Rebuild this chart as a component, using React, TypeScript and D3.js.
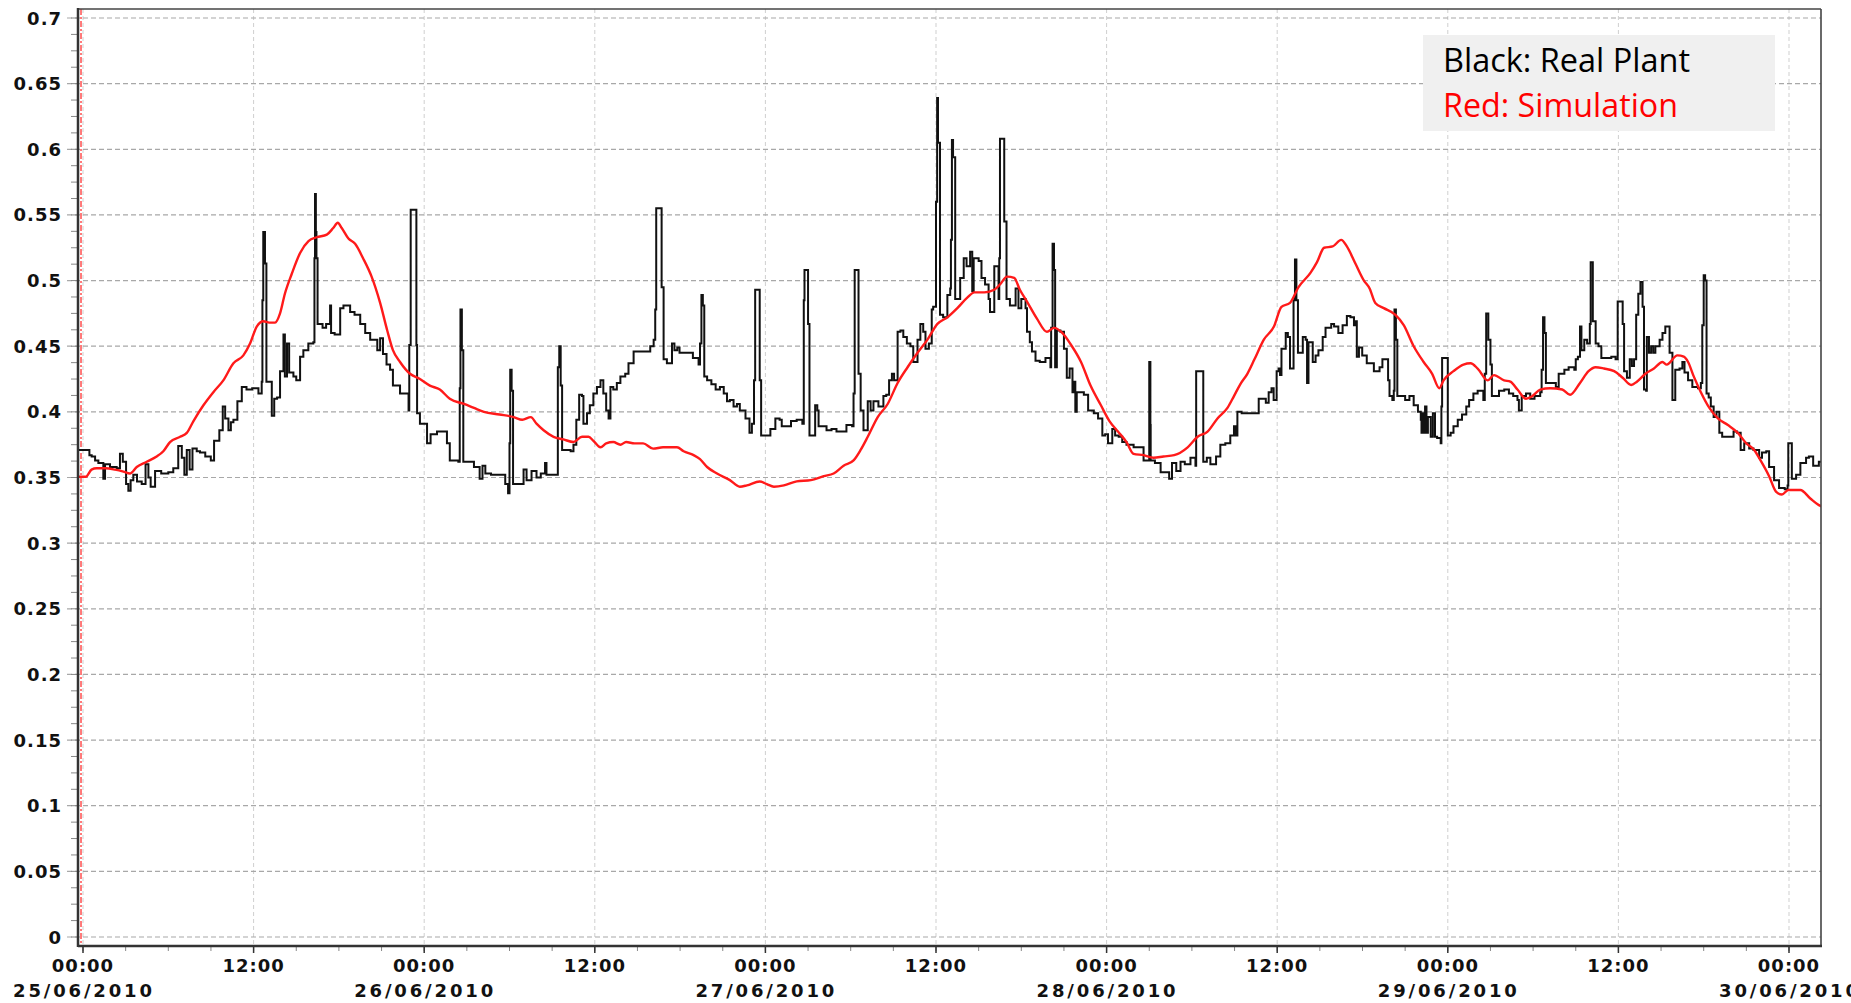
import React from 'react';
import * as d3 from 'd3';

// Hours after 25/06/2010 00:00 paired with the measured value.
const realPlant: [number, number][] = [
  [-0.37, 0.371], [0.3, 0.371], [0.45, 0.367], [0.61, 0.366], [0.85, 0.363], [1.08, 0.361], [1.43, 0.349], [1.55, 0.36],
  [1.9, 0.358], [2.37, 0.357], [2.6, 0.368], [2.8, 0.362], [3.03, 0.345], [3.19, 0.34], [3.35, 0.348], [3.54, 0.352],
  [3.8, 0.347], [4.13, 0.345], [4.4, 0.36], [4.6, 0.35], [4.76, 0.343], [5.07, 0.355], [5.5, 0.353], [6.0, 0.354],
  [6.35, 0.357], [6.7, 0.374], [6.95, 0.365], [7.13, 0.352], [7.3, 0.371], [7.5, 0.356], [7.7, 0.372], [8.0, 0.37],
  [8.23, 0.369], [8.6, 0.366], [8.99, 0.363], [9.22, 0.378], [9.59, 0.386], [9.83, 0.404], [10.0, 0.395], [10.23, 0.386],
  [10.4, 0.392], [10.58, 0.394], [10.86, 0.408], [11.17, 0.419], [11.5, 0.417], [11.9, 0.418], [12.34, 0.414], [12.57, 0.423],
  [12.62, 0.485], [12.68, 0.537], [12.8, 0.513], [12.9, 0.423], [13.16, 0.423], [13.28, 0.397], [13.45, 0.41], [13.65, 0.411],
  [13.86, 0.431], [14.1, 0.459], [14.2, 0.427], [14.35, 0.452], [14.5, 0.43], [14.8, 0.427], [15.0, 0.424], [15.27, 0.442],
  [15.5, 0.447], [15.85, 0.452], [16.2, 0.453], [16.28, 0.517], [16.32, 0.566], [16.38, 0.537], [16.42, 0.517], [16.5, 0.467],
  [16.85, 0.464], [17.1, 0.467], [17.38, 0.481], [17.45, 0.46], [17.7, 0.459], [18.09, 0.479], [18.32, 0.481], [18.79, 0.476],
  [19.1, 0.474], [19.5, 0.467], [19.85, 0.46], [20.2, 0.455], [20.7, 0.447], [20.9, 0.456], [21.1, 0.444], [21.35, 0.436],
  [21.6, 0.432], [21.8, 0.42], [22.3, 0.414], [22.9, 0.401], [22.95, 0.451], [23.05, 0.554], [23.35, 0.554], [23.45, 0.451],
  [23.5, 0.399], [23.7, 0.391], [24.2, 0.376], [24.45, 0.383], [24.9, 0.385], [25.6, 0.376], [25.8, 0.363], [26.4, 0.362],
  [26.5, 0.418], [26.55, 0.478], [26.65, 0.447], [26.75, 0.362], [27.1, 0.362], [27.5, 0.358], [27.9, 0.349], [28.1, 0.359],
  [28.3, 0.353], [28.7, 0.352], [29.3, 0.352], [29.7, 0.345], [29.9, 0.338], [30.0, 0.376], [30.05, 0.432], [30.15, 0.416],
  [30.25, 0.345], [30.7, 0.345], [30.99, 0.356], [31.2, 0.348], [31.55, 0.355], [31.9, 0.35], [32.2, 0.353], [32.5, 0.361],
  [32.6, 0.352], [33.3, 0.352], [33.4, 0.434], [33.5, 0.45], [33.6, 0.42], [33.7, 0.371], [34.3, 0.37], [34.5, 0.375],
  [34.7, 0.394], [34.9, 0.413], [35.1, 0.412], [35.2, 0.391], [35.45, 0.399], [35.65, 0.405], [35.9, 0.414], [36.15, 0.419],
  [36.4, 0.424], [36.6, 0.414], [36.8, 0.401], [36.97, 0.395], [37.1, 0.419], [37.3, 0.417], [37.55, 0.422], [37.8, 0.427],
  [38.14, 0.429], [38.37, 0.437], [38.73, 0.446], [39.08, 0.446], [39.67, 0.446], [39.9, 0.45], [40.14, 0.455], [40.25, 0.478],
  [40.32, 0.555], [40.6, 0.555], [40.7, 0.495], [40.84, 0.44], [41.07, 0.437], [41.43, 0.452], [41.6, 0.447], [41.8, 0.449],
  [41.96, 0.445], [42.5, 0.445], [42.9, 0.441], [43.3, 0.436], [43.4, 0.452], [43.5, 0.489], [43.6, 0.481], [43.7, 0.427],
  [43.9, 0.424], [44.2, 0.421], [44.5, 0.417], [44.8, 0.419], [45.07, 0.414], [45.3, 0.408], [45.5, 0.409], [45.76, 0.404],
  [46.0, 0.406], [46.2, 0.401], [46.6, 0.395], [46.88, 0.384], [47.05, 0.391], [47.2, 0.424], [47.28, 0.493], [47.5, 0.493],
  [47.6, 0.424], [47.7, 0.382], [48.1, 0.382], [48.35, 0.387], [48.7, 0.395], [49.0, 0.394], [49.15, 0.389], [49.4, 0.389],
  [49.8, 0.393], [50.2, 0.394], [50.6, 0.391], [50.7, 0.485], [50.75, 0.508], [50.92, 0.508], [51.0, 0.467], [51.1, 0.382],
  [51.4, 0.382], [51.5, 0.405], [51.65, 0.401], [51.74, 0.389], [52.0, 0.389], [52.3, 0.386], [52.65, 0.387], [53.0, 0.385],
  [53.35, 0.385], [53.7, 0.39], [54.1, 0.389], [54.2, 0.414], [54.28, 0.508], [54.5, 0.508], [54.55, 0.429], [54.7, 0.401],
  [54.9, 0.386], [55.2, 0.408], [55.4, 0.401], [55.6, 0.408], [55.95, 0.404], [56.3, 0.412], [56.5, 0.413], [56.7, 0.424],
  [56.9, 0.429], [57.05, 0.424], [57.3, 0.461], [57.5, 0.462], [57.7, 0.457], [57.95, 0.452], [58.2, 0.45], [58.4, 0.438],
  [58.7, 0.455], [58.9, 0.467], [59.1, 0.461], [59.26, 0.448], [59.5, 0.452], [59.7, 0.478], [59.8, 0.48], [59.95, 0.48],
  [60.0, 0.56], [60.08, 0.639], [60.14, 0.605], [60.25, 0.605], [60.28, 0.474], [60.5, 0.472], [60.8, 0.489], [61.0, 0.494],
  [61.05, 0.531], [61.12, 0.607], [61.2, 0.594], [61.3, 0.594], [61.35, 0.486], [61.5, 0.486], [61.7, 0.502], [61.95, 0.517],
  [62.15, 0.511], [62.4, 0.522], [62.55, 0.492], [62.65, 0.517], [63.0, 0.515], [63.2, 0.502], [63.45, 0.497], [63.7, 0.486],
  [63.8, 0.476], [64.1, 0.511], [64.3, 0.511], [64.4, 0.486], [64.45, 0.517], [64.5, 0.608], [64.75, 0.608], [64.8, 0.545],
  [64.96, 0.486], [65.2, 0.481], [65.6, 0.494], [65.8, 0.479], [66.0, 0.486], [66.3, 0.479], [66.4, 0.461], [66.6, 0.453],
  [66.75, 0.446], [67.0, 0.439], [67.3, 0.438], [67.7, 0.441], [68.05, 0.434], [68.1, 0.464], [68.2, 0.528], [68.3, 0.508],
  [68.38, 0.434], [68.5, 0.462], [68.75, 0.461], [69.0, 0.448], [69.2, 0.426], [69.4, 0.433], [69.6, 0.415], [69.7, 0.423],
  [69.8, 0.4], [69.9, 0.415], [70.4, 0.413], [70.7, 0.401], [71.1, 0.399], [71.4, 0.395], [71.7, 0.382], [71.9, 0.383],
  [72.1, 0.376], [72.4, 0.387], [72.6, 0.382], [72.85, 0.381], [73.1, 0.377], [73.4, 0.375], [73.9, 0.373], [74.2, 0.373],
  [74.6, 0.363], [74.95, 0.363], [75.0, 0.438], [75.08, 0.39], [75.1, 0.363], [75.4, 0.361], [75.8, 0.354], [76.1, 0.354],
  [76.4, 0.349], [76.6, 0.361], [76.9, 0.355], [77.2, 0.362], [77.5, 0.36], [77.9, 0.365], [78.25, 0.359], [78.3, 0.431],
  [78.7, 0.431], [78.8, 0.362], [79.05, 0.365], [79.3, 0.36], [79.7, 0.366], [80.0, 0.375], [80.35, 0.376], [80.7, 0.382],
  [80.96, 0.389], [81.1, 0.382], [81.2, 0.4], [81.5, 0.399], [81.8, 0.399], [82.6, 0.399], [82.7, 0.41], [83.1, 0.41],
  [83.2, 0.407], [83.4, 0.415], [83.6, 0.418], [83.75, 0.409], [83.96, 0.431], [84.1, 0.433], [84.2, 0.428], [84.3, 0.448],
  [84.6, 0.46], [84.75, 0.457], [84.9, 0.433], [85.1, 0.433], [85.15, 0.485], [85.25, 0.516], [85.35, 0.485], [85.46, 0.445],
  [85.7, 0.445], [85.8, 0.457], [86.0, 0.455], [86.1, 0.422], [86.2, 0.453], [86.5, 0.438], [86.7, 0.443], [86.9, 0.447],
  [87.2, 0.457], [87.4, 0.464], [87.8, 0.467], [88.0, 0.465], [88.3, 0.46], [88.6, 0.466], [88.9, 0.473], [89.15, 0.472],
  [89.4, 0.466], [89.5, 0.469], [89.6, 0.442], [89.75, 0.449], [89.98, 0.443], [90.3, 0.437], [90.8, 0.431], [91.2, 0.434],
  [91.4, 0.44], [91.7, 0.44], [91.8, 0.424], [91.9, 0.412], [92.1, 0.409], [92.2, 0.416], [92.25, 0.478], [92.35, 0.455],
  [92.45, 0.412], [92.7, 0.412], [93.0, 0.409], [93.3, 0.412], [93.6, 0.405], [93.9, 0.4], [94.1, 0.394], [94.15, 0.384],
  [94.2, 0.399], [94.3, 0.384], [94.4, 0.404], [94.5, 0.384], [94.6, 0.396], [94.8, 0.381], [94.95, 0.399], [95.1, 0.381],
  [95.25, 0.38], [95.5, 0.376], [95.55, 0.404], [95.6, 0.441], [95.85, 0.441], [96.0, 0.382], [96.2, 0.384], [96.4, 0.389],
  [96.7, 0.394], [97.0, 0.398], [97.3, 0.404], [97.5, 0.409], [97.8, 0.414], [98.1, 0.416], [98.5, 0.409], [98.6, 0.429],
  [98.7, 0.475], [98.85, 0.455], [99.0, 0.436], [99.1, 0.412], [99.4, 0.412], [99.6, 0.416], [99.97, 0.417], [100.3, 0.414],
  [100.6, 0.412], [100.9, 0.409], [101.0, 0.401], [101.2, 0.412], [101.5, 0.414], [101.8, 0.41], [102.1, 0.412], [102.5, 0.415],
  [102.6, 0.432], [102.7, 0.472], [102.8, 0.46], [102.9, 0.422], [103.2, 0.422], [103.6, 0.419], [103.8, 0.429], [104.2, 0.432],
  [104.5, 0.434], [104.9, 0.432], [105.0, 0.44], [105.15, 0.442], [105.3, 0.465], [105.4, 0.447], [105.6, 0.455], [105.8, 0.452],
  [105.99, 0.467], [106.05, 0.514], [106.15, 0.514], [106.2, 0.469], [106.4, 0.452], [106.6, 0.45], [106.8, 0.441], [107.1, 0.441],
  [107.5, 0.442], [107.8, 0.44], [107.95, 0.484], [108.2, 0.484], [108.3, 0.467], [108.4, 0.431], [108.6, 0.426], [108.8, 0.44],
  [108.95, 0.435], [109.1, 0.44], [109.25, 0.474], [109.4, 0.49], [109.55, 0.499], [109.7, 0.48], [109.8, 0.417], [109.95, 0.416],
  [110.0, 0.457], [110.15, 0.445], [110.3, 0.45], [110.45, 0.445], [110.6, 0.45], [110.9, 0.455], [111.1, 0.46], [111.3, 0.465],
  [111.5, 0.465], [111.6, 0.445], [111.8, 0.409], [111.95, 0.409], [112.0, 0.432], [112.3, 0.433], [112.5, 0.438], [112.65, 0.43],
  [112.9, 0.424], [113.2, 0.419], [113.6, 0.418], [113.8, 0.422], [113.9, 0.466], [114.0, 0.504], [114.1, 0.5], [114.2, 0.414],
  [114.35, 0.411], [114.5, 0.404], [114.7, 0.396], [114.9, 0.4], [115.1, 0.384], [115.3, 0.381], [115.9, 0.381], [116.1, 0.385],
  [116.35, 0.384], [116.6, 0.371], [116.85, 0.376], [117.2, 0.372], [117.5, 0.371], [117.9, 0.365], [118.1, 0.369], [118.4, 0.37],
  [118.6, 0.358], [118.95, 0.348], [119.3, 0.342], [119.7, 0.341], [119.9, 0.344], [119.95, 0.376], [120.05, 0.376], [120.2, 0.349],
  [120.5, 0.352], [120.8, 0.361], [121.2, 0.365], [121.4, 0.366], [121.7, 0.359], [122.1, 0.362], [122.3, 0.362],
];

// Hours after 25/06/2010 00:00 paired with the simulated value.
const simulation: [number, number][] = [
  [-0.37, 0.3506], [0.2, 0.3506], [0.6, 0.356], [0.96, 0.357], [1.6, 0.357], [2.25, 0.356], [2.84, 0.3545], [3.3, 0.353],
  [3.78, 0.358], [4.48, 0.362], [5.18, 0.366], [5.65, 0.37], [6.12, 0.377], [6.83, 0.381], [7.3, 0.384], [7.77, 0.393],
  [8.47, 0.405], [9.17, 0.415], [9.87, 0.424], [10.58, 0.437], [11.28, 0.443], [11.75, 0.452], [12.22, 0.465], [12.69, 0.469],
  [13.1, 0.468], [13.51, 0.468], [13.86, 0.475], [14.2, 0.49], [14.68, 0.505], [15.27, 0.521], [15.86, 0.53], [16.44, 0.533],
  [17.15, 0.535], [17.6, 0.54], [17.92, 0.544], [18.2, 0.54], [18.67, 0.532], [19.14, 0.528], [19.7, 0.517], [20.3, 0.503],
  [20.9, 0.483], [21.4, 0.462], [21.8, 0.447], [22.3, 0.438], [23.0, 0.429], [23.7, 0.425], [24.4, 0.42], [25.1, 0.417],
  [25.8, 0.41], [26.8, 0.406], [27.5, 0.403], [28.2, 0.4], [29.3, 0.398], [30.3, 0.396], [30.9, 0.394], [31.5, 0.396],
  [31.9, 0.391], [32.4, 0.386], [33.1, 0.381], [33.8, 0.379], [34.5, 0.377], [35.1, 0.381], [35.56, 0.381], [35.9, 0.378],
  [36.4, 0.373], [36.8, 0.376], [37.3, 0.377], [37.8, 0.375], [38.2, 0.377], [38.8, 0.376], [39.4, 0.376], [40.1, 0.372],
  [40.8, 0.373], [41.78, 0.373], [42.25, 0.37], [42.95, 0.367], [43.4, 0.364], [43.9, 0.358], [44.6, 0.353], [45.5, 0.348],
  [46.2, 0.343], [46.7, 0.344], [47.6, 0.347], [48.1, 0.345], [48.6, 0.343], [49.3, 0.344], [50.2, 0.347], [51.2, 0.348],
  [52.1, 0.351], [52.8, 0.353], [53.5, 0.359], [54.2, 0.363], [54.7, 0.371], [55.2, 0.381], [55.9, 0.396], [56.6, 0.406],
  [57.3, 0.422], [58.0, 0.434], [58.7, 0.445], [59.4, 0.455], [60.1, 0.467], [60.8, 0.472], [61.5, 0.479], [62.2, 0.487],
  [62.7, 0.491], [63.4, 0.491], [64.1, 0.493], [64.5, 0.497], [65.0, 0.503], [65.5, 0.502], [65.9, 0.493], [66.4, 0.484],
  [67.1, 0.471], [67.8, 0.461], [68.3, 0.464], [68.9, 0.46], [69.5, 0.451], [70.2, 0.438], [70.87, 0.42], [71.6, 0.405],
  [72.2, 0.393], [72.8, 0.385], [73.4, 0.377], [73.9, 0.368], [74.6, 0.367], [75.3, 0.365], [76.0, 0.366], [76.75, 0.367],
  [77.7, 0.373], [78.4, 0.381], [79.1, 0.385], [79.8, 0.395], [80.5, 0.403], [80.96, 0.412], [81.4, 0.421], [81.9, 0.429],
  [82.4, 0.44], [83.06, 0.455], [83.77, 0.465], [84.3, 0.48], [84.9, 0.483], [85.5, 0.495], [86.35, 0.506], [86.8, 0.514],
  [87.3, 0.525], [87.9, 0.526], [88.5, 0.531], [88.9, 0.526], [89.5, 0.513], [90.1, 0.5], [90.5, 0.494], [90.9, 0.483],
  [91.5, 0.479], [92.3, 0.474], [92.9, 0.466], [93.6, 0.45], [94.3, 0.438], [94.9, 0.429], [95.4, 0.418], [95.7, 0.424],
  [96.4, 0.431], [97.1, 0.436], [97.6, 0.437], [98.1, 0.433], [98.8, 0.424], [99.25, 0.428], [99.96, 0.424], [100.4, 0.423],
  [100.9, 0.417], [101.5, 0.41], [101.94, 0.412], [102.5, 0.417], [103.2, 0.418], [104.05, 0.417], [104.6, 0.413], [105.3, 0.422],
  [105.9, 0.431], [106.4, 0.434], [106.99, 0.433], [107.7, 0.431], [108.3, 0.426], [108.9, 0.4205], [109.3, 0.423], [109.9, 0.429],
  [110.5, 0.433], [111.1, 0.438], [111.4, 0.436], [112.15, 0.443], [112.6, 0.442], [112.9, 0.438], [113.3, 0.427], [113.8, 0.415],
  [114.4, 0.403], [115.0, 0.395], [115.7, 0.39], [116.4, 0.384], [117.0, 0.376], [117.55, 0.371], [118.0, 0.363], [118.6, 0.351],
  [119.1, 0.339], [119.5, 0.337], [119.95, 0.3405], [120.8, 0.3405], [121.5, 0.334], [122.1, 0.329], [122.3, 0.328],
];

const yTickValues = [0, 0.05, 0.1, 0.15, 0.2, 0.25, 0.3, 0.35, 0.4, 0.45, 0.5, 0.55, 0.6, 0.65, 0.7];
const yTickLabels = ['0', '0.05', '0.1', '0.15', '0.2', '0.25', '0.3', '0.35', '0.4', '0.45', '0.5', '0.55', '0.6', '0.65', '0.7'];
const legendLines = [
  { text: 'Black: Real Plant', color: '#000000' },
  { text: 'Red: Simulation', color: '#ff0000' },
];
// Start-of-run marker, in hours.
const runStartHour = -0.14;

const START = Date.UTC(2010, 5, 25);
const toDate = (h: number) => new Date(START + h * 3600e3);

const W = 1851;
const H = 1003;
const frame = { left: 78, top: 9, right: 1821, bottom: 946 };

const x = d3.scaleUtc().domain([toDate(0), toDate(120)]).range([83, 1789]);
const y = d3.scaleLinear().domain([0, 0.7]).range([937, 18]);

const majorX = d3.utcHour.every(12)!.range(toDate(0), toDate(120.01));
const minorX = d3.utcHour.every(3)!.range(toDate(0), x.invert(frame.right));
const minorY = d3.range(0, 0.7001, 0.0125);

const fmtTime = d3.utcFormat('%H:%M');
const fmtDate = d3.utcFormat('%d/%m/%Y');

const stepLine = d3
  .line<[number, number]>()
  .x((d) => x(toDate(d[0])))
  .y((d) => y(d[1]))
  .curve(d3.curveStepAfter);

const smoothLine = d3
  .line<[number, number]>()
  .x((d) => x(toDate(d[0])))
  .y((d) => y(d[1]))
  .curve(d3.curveMonotoneX);

const tickFont = {
  fontFamily: '"DejaVu Sans", Verdana, sans-serif',
  fontWeight: 700,
  fontSize: 18,
  letterSpacing: 1,
  fill: '#111',
};

export default function App() {
  return (
    <svg
      width={W}
      height={H}
      style={{ position: 'absolute', left: 0, top: 0, background: '#fff' }}
    >
      <defs>
        <clipPath id="plotClip">
          <rect
            x={frame.left}
            y={frame.top}
            width={frame.right - frame.left}
            height={frame.bottom - frame.top}
          />
        </clipPath>
      </defs>
      <rect width={W} height={H} fill="#fff" />

      {/* vertical grid every 12 h */}
      {majorX.map((t) => (
        <line
          key={'vg' + +t}
          x1={x(t)}
          x2={x(t)}
          y1={frame.top}
          y2={frame.bottom}
          stroke="#cfcfcf"
          strokeWidth={1}
          strokeDasharray="4,3"
        />
      ))}
      {/* horizontal grid */}
      {yTickValues.map((v) => (
        <line
          key={'hg' + v}
          x1={67}
          x2={frame.right}
          y1={y(v)}
          y2={y(v)}
          stroke="#a8a8a8"
          strokeWidth={1.2}
          strokeDasharray="5,3"
        />
      ))}

      {/* minor ticks */}
      {minorY.map((v) => (
        <line key={'my' + v} x1={71} x2={frame.left} y1={y(v)} y2={y(v)} stroke="#888" strokeWidth={1} />
      ))}
      {minorX.map((t) => (
        <line key={'mx' + +t} x1={x(t)} x2={x(t)} y1={frame.bottom} y2={frame.bottom + 5} stroke="#888" strokeWidth={1} />
      ))}
      {majorX.map((t) => (
        <line key={'Mx' + +t} x1={x(t)} x2={x(t)} y1={frame.bottom} y2={frame.bottom + 7} stroke="#333" strokeWidth={1.5} />
      ))}

      {/* run start marker */}
      <line
        x1={x(toDate(runStartHour))}
        x2={x(toDate(runStartHour))}
        y1={frame.top}
        y2={frame.bottom}
        stroke="#ff5050"
        strokeWidth={1.5}
        strokeDasharray="6,2,2,2"
      />

      <g clipPath="url(#plotClip)">
        <path d={stepLine(realPlant) || ''} fill="none" stroke="#111" strokeWidth={2} strokeLinejoin="miter" />
        <path d={smoothLine(simulation) || ''} fill="none" stroke="#ff1a1a" strokeWidth={2.4} strokeLinejoin="round" />
      </g>

      {/* frame */}
      <line x1={frame.left} x2={frame.right} y1={frame.top} y2={frame.top} stroke="#444" strokeWidth={1.6} />
      <line x1={frame.right} x2={frame.right} y1={frame.top} y2={frame.bottom} stroke="#444" strokeWidth={1.6} />
      <line x1={frame.left} x2={frame.right + 1} y1={frame.bottom} y2={frame.bottom} stroke="#333" strokeWidth={2.5} />
      <line x1={frame.left} x2={frame.left} y1={frame.top - 1} y2={frame.bottom + 1} stroke="#333" strokeWidth={2.5} />

      {/* y tick labels */}
      {yTickValues.map((v, i) => (
        <text key={'yl' + v} x={62} y={y(v) + 6.5} textAnchor="end" {...tickFont}>
          {yTickLabels[i]}
        </text>
      ))}

      {/* x tick labels */}
      {majorX.map((t) => {
        const midnight = t.getUTCHours() === 0;
        return (
          <g key={'xl' + +t}>
            <text x={x(t)} y={972} textAnchor="middle" {...tickFont}>
              {fmtTime(t)}
            </text>
            {midnight && (
              <text
                x={x(t) - 70}
                y={997}
                {...tickFont}
                textLength={140}
                lengthAdjust="spacing"
              >
                {fmtDate(t)}
              </text>
            )}
          </g>
        );
      })}

      {/* legend */}
      <rect x={1423} y={35} width={352} height={96} fill="#f0f0f0" />
      {legendLines.map((l, i) => (
        <text
          key={l.text}
          x={1443}
          y={72 + i * 45}
          fill={l.color}
          fontFamily='"Open Sans", "Noto Sans", sans-serif'
          fontSize={32}
          textLength={i === 0 ? 247 : 235}
          lengthAdjust="spacingAndGlyphs"
        >
          {l.text}
        </text>
      ))}
    </svg>
  );
}
